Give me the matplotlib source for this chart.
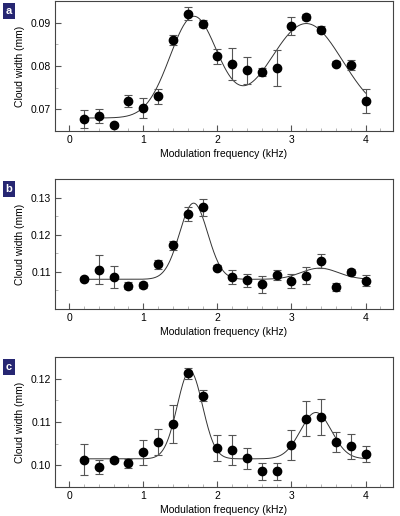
#!/usr/bin/env python3
"""
Cloud width versus modulation frequency, three panels (a, b, c)
"""

import matplotlib

matplotlib.use("Agg")
import matplotlib.pyplot as plt
import numpy as np
from matplotlib.ticker import MultipleLocator

plt.rcParams["font.family"] = ["Liberation Sans Narrow", "Liberation Sans", "DejaVu Sans"]

freq = [0.2, 0.4, 0.6, 0.8, 1.0, 1.2, 1.4, 1.6, 1.8, 2.0,
        2.2, 2.4, 2.6, 2.8, 3.0, 3.2, 3.4, 3.6, 3.8, 4.0]

width_a = [0.0678, 0.0685, 0.0664, 0.0719, 0.0703, 0.0730, 0.0860, 0.0921, 0.0898, 0.0822,
           0.0805, 0.0790, 0.0786, 0.0795, 0.0893, 0.0914, 0.0884, 0.0805, 0.0802, 0.0719]
err_a = [0.0021, 0.0016, 0.0005, 0.0013, 0.0023, 0.0017, 0.0012, 0.0014, 0.0009, 0.0017,
         0.0037, 0.0031, 0.0009, 0.0041, 0.0021, 0.0007, 0.0008, 0.0006, 0.0011, 0.0027]

width_b = [0.1082, 0.1106, 0.1086, 0.1063, 0.1065, 0.1120, 0.1171, 0.1256, 0.1274, 0.1111,
           0.1086, 0.1077, 0.1066, 0.1091, 0.1076, 0.1090, 0.1129, 0.1060, 0.1100, 0.1076]
err_b = [0.0005, 0.0040, 0.0030, 0.0009, 0.0009, 0.0013, 0.0011, 0.0019, 0.0023, 0.0007,
         0.0018, 0.0017, 0.0024, 0.0013, 0.0019, 0.0022, 0.0018, 0.0011, 0.0009, 0.0015]

width_c = [0.1013, 0.0996, 0.1013, 0.1005, 0.1030, 0.1053, 0.1095, 0.1212, 0.1161, 0.1039,
           0.1035, 0.1016, 0.0986, 0.0986, 0.1047, 0.1108, 0.1112, 0.1054, 0.1044, 0.1026]
err_c = [0.0036, 0.0017, 0.0005, 0.0010, 0.0029, 0.0030, 0.0044, 0.0013, 0.0013, 0.0030,
         0.0035, 0.0024, 0.0019, 0.0019, 0.0034, 0.0041, 0.0041, 0.0023, 0.0029, 0.0019]

# double-gaussian fit parameters: baseline, amplitudes, centres, widths (kHz)
fit_base = [0.0680, 0.1080, 0.1015]
fit_amp = [[0.0233, 0.0218], [0.0205, 0.0030], [0.0203, 0.0107]]
fit_center = [[1.68, 3.20], [1.68, 3.38], [1.63, 3.33]]
fit_sigma = [[0.32, 0.49], [0.19, 0.25], [0.17, 0.21]]

ylims = [(0.065, 0.095), (0.100, 0.135), (0.095, 0.125)]
yticks = [[0.07, 0.08, 0.09], [0.11, 0.12, 0.13], [0.10, 0.11, 0.12]]
panel_labels = ["a", "b", "c"]


def fit_curve(x, base, amps, centers, sigmas):
    y = np.full_like(x, base)
    for a, c, s in zip(amps, centers, sigmas):
        y += a * np.exp(-((x - c) ** 2) / (2 * s ** 2))
    return y


def main():
    fig = plt.figure(figsize=(4.0, 5.16), dpi=100)
    # axes boxes in pixels: (top, bottom)
    boxes = [(1, 131), (179, 309), (357, 487)]
    left, right = 55, 393
    H = 516.0

    widths = [width_a, width_b, width_c]
    errs = [err_a, err_b, err_c]
    xs = np.linspace(0.2, 4.0, 400)

    for i in range(3):
        top, bot = boxes[i]
        ax = fig.add_axes([left / 400, 1 - bot / H, (right - left) / 400, (bot - top) / H])

        ax.plot(xs, fit_curve(xs, fit_base[i], fit_amp[i], fit_center[i], fit_sigma[i]),
                color="#333333", linewidth=0.7, zorder=2)
        ax.errorbar(freq, widths[i], yerr=errs[i], fmt="o", color="black",
                    markersize=6, ecolor="#555555", elinewidth=0.8, capsize=2.8,
                    capthick=0.8, zorder=3)

        ax.set_xlim(-0.19, 4.37)
        ax.set_ylim(*ylims[i])
        ax.set_xticks([0, 1, 2, 3, 4])
        ax.xaxis.set_minor_locator(MultipleLocator(0.2))
        ax.set_yticks(yticks[i])
        ax.set_yticklabels([f"{t:.2f}" for t in yticks[i]])
        ax.yaxis.set_minor_locator(MultipleLocator(0.005))

        ax.tick_params(which="both", direction="in", colors="#555555",
                       labelcolor="black", labelsize=7.5)
        ax.tick_params(which="major", length=4.5, width=0.8, pad=3)
        ax.tick_params(which="minor", length=2.5, width=0.6, color="#aaaaaa")
        for sp in ax.spines.values():
            sp.set_color("#444444")
            sp.set_linewidth(0.8)

        ax.set_xlabel("Modulation frequency (kHz)", fontsize=7.5, labelpad=2.5)
        ax.set_ylabel("Cloud width (mm)", fontsize=7.5, labelpad=4)

        fig.text(9 / 400, 1 - (top + 10) / H, panel_labels[i], color="white",
                 fontsize=8, fontweight="bold", ha="center", va="center",
                 bbox=dict(boxstyle="square,pad=0.25", facecolor="#262672",
                           edgecolor="none"))

    fig.savefig("out.png", dpi=100)


if __name__ == "__main__":
    main()
